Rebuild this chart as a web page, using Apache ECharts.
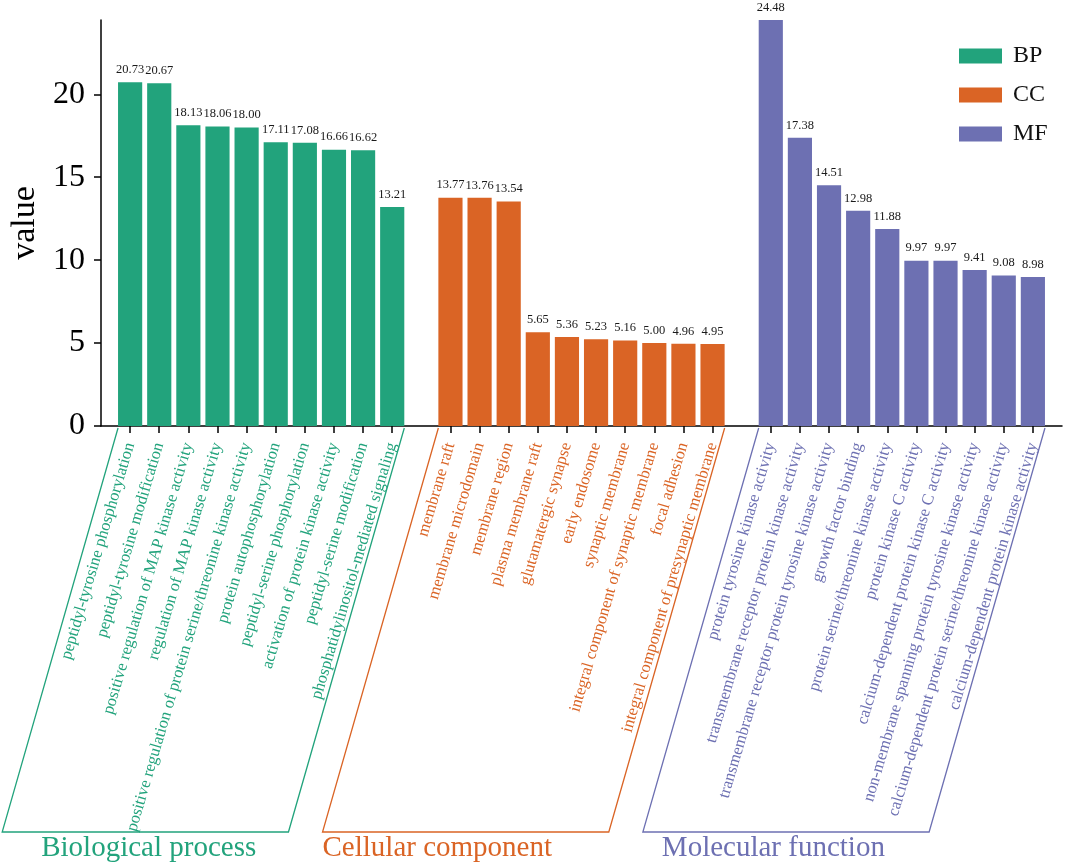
<!DOCTYPE html>
<html>
<head>
<meta charset="utf-8">
<script src="https://cdn.jsdelivr.net/npm/echarts@6/dist/echarts.min.js"></script>
<style>
html,body{margin:0;padding:0;background:#fff;}
#chart{width:1065px;height:864px;}
</style>
</head>
<body>
<div id="chart"></div>
<script>
const bpCategories = ['peptidyl-tyrosine phosphorylation','peptidyl-tyrosine modification','positive regulation of MAP kinase activity','regulation of MAP kinase activity','positive regulation of protein serine/threonine kinase activity','protein autophosphorylation','peptidyl-serine phosphorylation','activation of protein kinase activity','peptidyl-serine modification','phosphatidylinositol-mediated signaling'];
const bpValues = [20.73,20.67,18.13,18.06,18.00,17.11,17.08,16.66,16.62,13.21];
const ccCategories = ['membrane raft','membrane microdomain','membrane region','plasma membrane raft','glutamatergic synapse','early endosome','synaptic membrane','integral component of synaptic membrane','focal adhesion','integral component of presynaptic membrane'];
const ccValues = [13.77,13.76,13.54,5.65,5.36,5.23,5.16,5.00,4.96,4.95];
const mfCategories = ['protein tyrosine kinase activity','transmembrane receptor protein kinase activity','transmembrane receptor protein tyrosine kinase activity','growth factor binding','protein serine/threonine kinase activity','protein kinase C activity','calcium-dependent protein kinase C activity','non-membrane spanning protein tyrosine kinase activity','calcium-dependent protein serine/threonine kinase activity','calcium-dependent protein kinase activity'];
const mfValues = [24.48,17.38,14.51,12.98,11.88,9.97,9.97,9.41,9.08,8.98];
const groupNames = ['BP','CC','MF'];
const groupTitles = ['Biological process','Cellular component','Molecular function'];
const yTicks = [0,5,10,15,20];

const colors = ['#22a37c','#da6425','#6d70b2'];
const FONT = 'Liberation Serif';
const groups = [bpCategories, ccCategories, mfCategories];
const groupValues = [bpValues, ccValues, mfValues];

// build category axis with blank spacer slots
const categories = [' '];
const groupRanges = [];
groups.forEach((g, gi) => {
  const start = categories.length;
  g.forEach(c => categories.push(c));
  groupRanges.push([start, categories.length - 1]);
  categories.push(' '.repeat(gi + 2));
});
function groupOf(name){
  for (let i = 0; i < groups.length; i++) if (groups[i].indexOf(name) >= 0) return i;
  return -1;
}
const seriesData = groupValues.map((vals, gi) => {
  const arr = categories.map(() => null);
  vals.forEach((v, k) => { arr[groupRanges[gi][0] + k] = v; });
  return arr;
});
const catGap = 0.17;

const chart = echarts.init(document.getElementById('chart'), null, {renderer:'canvas'});
const option = {
  backgroundColor:'#fff',
  animation:false,
  textStyle:{fontFamily:FONT},
  grid:{left:101, right:3, top:20, bottom:438, containLabel:false},
  legend:{
    data:groupNames, orient:'vertical', left:954, top:39,
    itemWidth:43, itemHeight:15, itemGap:15, icon:'rect',
    textStyle:{fontFamily:FONT, fontSize:24, color:'#111', padding:[0,0,0,6]}
  },
  xAxis:{
    type:'category', data:categories, boundaryGap:false,
    axisLine:{show:true, lineStyle:{color:'#000', width:1.5}},
    axisTick:{show:true, length:7, lineStyle:{color:'#000', width:1.5},
      interval:(i, v) => v.trim() !== ''},
    axisLabel:{
      interval:(i, v) => v.trim() !== '',
      rotate:73.5, fontFamily:FONT, fontStyle:'normal', fontSize:16.6, margin:17,
      color:(v) => { const g = groupOf(v); return g >= 0 ? colors[g] : '#000'; }
    },
    splitLine:{show:false}
  },
  yAxis:{
    type:'value', min:0, max:24.48,
    name:'value', nameLocation:'middle', nameGap:52,
    nameTextStyle:{fontFamily:FONT, fontSize:34, color:'#000'},
    axisLine:{show:true, lineStyle:{color:'#000', width:1.5}},
    axisTick:{show:true, length:7, lineStyle:{color:'#000', width:1.5}, customValues:yTicks},
    axisLabel:{fontFamily:FONT, fontSize:32, color:'#000', margin:16, customValues:yTicks},
    splitLine:{show:false}
  },
  series: groupNames.map((n, gi) => ({
    name:n, type:'bar', stack:'all', data:seriesData[gi],
    barCategoryGap:(catGap*100)+'%',
    itemStyle:{color:colors[gi]},
    label:{show:true, position:'top', distance:6, fontFamily:FONT, fontSize:12.5, color:'#1a1a1a',
      formatter:p => (p.value == null ? '' : Number(p.value).toFixed(2))}
  }))
};
chart.setOption(option);

// group boxes and titles computed from axis positions
const px = i => chart.convertToPixel({xAxisIndex:0}, i);
const y0 = chart.convertToPixel({yAxisIndex:0}, 0);
const band = px(2) - px(1);
const half = band * (1 - catGap) / 2;
const topY = y0 + 2, botY = 832;
const dx = (botY - topY) * Math.tan(16 * Math.PI / 180);
const titleOffsets = [39, 0, 19];
const graphics = [];
groupRanges.forEach((r, gi) => {
  const tl = px(r[0]) - half, tr = px(r[1]) + half;
  graphics.push({
    type:'polyline', silent:true,
    shape:{points:[[tl, topY],[tl - dx, botY],[tr - dx, botY],[tr, topY]]},
    style:{stroke:colors[gi], lineWidth:1.3, fill:null}
  });
  graphics.push({
    type:'text', silent:true,
    x: tl - dx + titleOffsets[gi], y: 848,
    style:{text:groupTitles[gi], fill:colors[gi], fontFamily:FONT, fontSize:29, fontStyle:'normal',
      align:'left', verticalAlign:'middle'}
  });
});
chart.setOption({graphic:graphics});
</script>
</body>
</html>
